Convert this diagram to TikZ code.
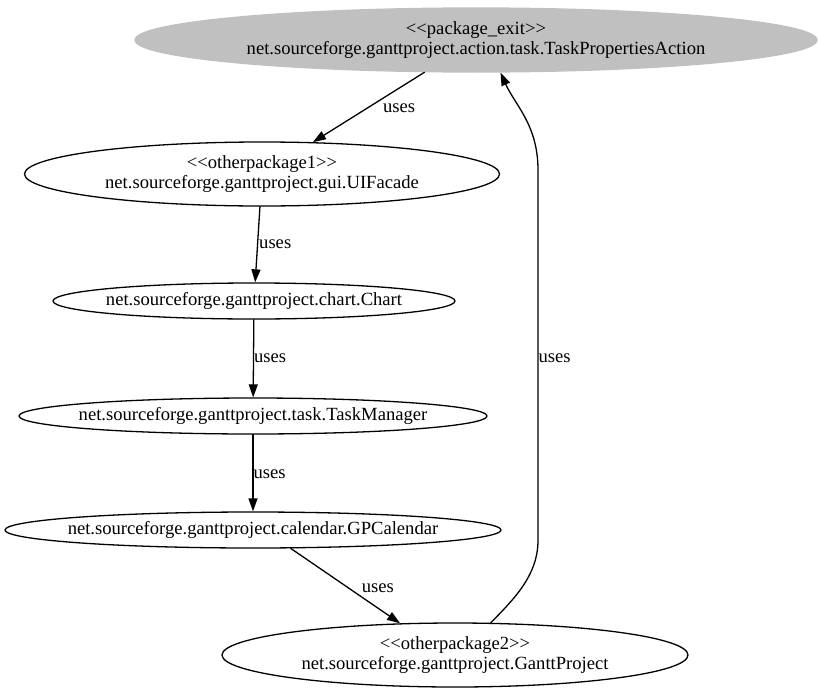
\documentclass[tikz,border=0pt]{standalone}
\usepackage{fontspec}
\setmainfont{Liberation Serif}
\usetikzlibrary{shapes.geometric,arrows.meta}
\definecolor{exitgray}{RGB}{192,192,192}
\newcommand{\stereo}[1]{<\kern0pt<#1>\kern0pt>}

\begin{document}
\begin{tikzpicture}[line cap=round,line join=round,x=1pt,y=-1pt,
    every label/.style={align=center,inner sep=0pt,font=\fontsize{18.6}{19.5}\selectfont},
    pkg/.style={ellipse,draw,line width=1.3pt,inner sep=0pt},
    uses/.style={->,line width=1.3pt,>={Triangle[length=13pt,width=9pt]}},
    lbl/.style={anchor=west,inner sep=0pt,font=\fontsize{18.6}{19.5}\selectfont}]

    \useasboundingbox (0,0) rectangle (821,696);

    \node[pkg,fill=exitgray,draw=exitgray,minimum width=682pt,minimum height=64pt,
        label=center:{\stereo{package\_exit}\\net.sourceforge.ganttproject.action.task.TaskPropertiesAction}] (exit) at (476,40) {};
    \node[pkg,minimum width=475pt,minimum height=64pt,
        label=center:{\stereo{otherpackage1}\\net.sourceforge.ganttproject.gui.UIFacade}] (ui) at (262,174) {};
    \node[pkg,minimum width=402pt,minimum height=36pt,
        label=center:{net.sourceforge.ganttproject.chart.Chart}] (chart) at (254,301) {};
    \node[pkg,minimum width=468pt,minimum height=36pt,
        label=center:{net.sourceforge.ganttproject.task.TaskManager}] (taskmgr) at (253,416) {};
    \node[pkg,minimum width=496pt,minimum height=36pt,
        label=center:{net.sourceforge.ganttproject.calendar.GPCalendar}] (calendar) at (253,530) {};
    \node[pkg,minimum width=466pt,minimum height=64pt,
        label=center:{\stereo{otherpackage2}\\net.sourceforge.ganttproject.GanttProject}] (gantt) at (455,655) {};

    \draw[uses] (exit) -- node[lbl,pos=.52,xshift=16pt] {uses} (ui);
    \draw[uses] (ui) -- node[lbl,pos=.5,xshift=1pt] {uses} (chart);
    \draw[uses] (chart) -- node[lbl,pos=.5] {uses} (taskmgr);
    \draw[uses] (taskmgr) -- node[lbl,pos=.51] {uses} (calendar);
    \draw[uses] (calendar.-26) -- node[lbl,pos=.535,xshift=12pt] {uses} (gantt.150);
    \draw[uses] (gantt.42) .. controls (515,598) and (538,575) .. (538,540)
        -- node[lbl,pos=.49] {uses} (538,170)
        .. controls (538,125) and (515,105) .. (exit.-53);
\end{tikzpicture}
\end{document}
